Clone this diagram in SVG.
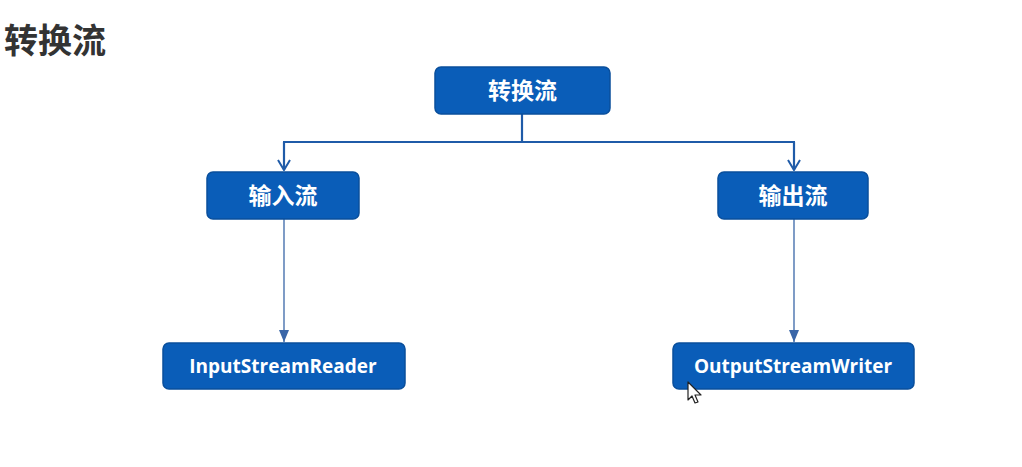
<svg xmlns="http://www.w3.org/2000/svg" width="1022" height="467" viewBox="0 0 1022 467">
<style>
.box{fill:#0A5DB8;stroke:#0A4F9C;stroke-width:1.5}
.zh{font-family:"Noto Sans CJK SC",sans-serif;font-weight:bold;fill:#fff;font-size:23px;text-anchor:middle}
.en{font-family:"Open Sans","Noto Sans",sans-serif;font-weight:bold;fill:#fff;font-size:19px;text-anchor:middle}
.thick{fill:none;stroke:#1F5BA8;stroke-width:2.2}
.thin{fill:none;stroke:#3A66A8;stroke-width:1.3}
</style>
<defs>
<marker id="chev" markerWidth="14" markerHeight="12" refX="7" refY="11" markerUnits="userSpaceOnUse" viewBox="0 0 14 12">
<path d="M1,1 L7,11 L13,1" fill="none" stroke="#1F5BA8" stroke-width="2"/>
</marker>
<marker id="tri" markerWidth="10" markerHeight="12" refX="5" refY="12" markerUnits="userSpaceOnUse" viewBox="0 0 10 12">
<path d="M0,0 L10,0 L5,12 Z" fill="#3A66A8"/>
</marker>
</defs>
<rect width="1022" height="467" fill="#fff"/>
<text x="4" y="53" font-family="Noto Sans CJK SC,sans-serif" font-weight="bold" font-size="34" fill="#333">转换流</text>
<g id="connectors">
<path class="thick" d="M522,114 V142"/>
<path class="thick" d="M283,142 H795"/>
<path class="thick" d="M284,142 V170" marker-end="url(#chev)"/>
<path class="thick" d="M794,142 V170" marker-end="url(#chev)"/>
<path class="thin" d="M284,219 V342" marker-end="url(#tri)"/>
<path class="thin" d="M794,219 V342" marker-end="url(#tri)"/>
</g>
<g id="root"><rect class="box" x="435" y="67" width="175" height="47" rx="6"/><text class="zh" x="522.5" y="99">转换流</text></g>
<g id="input"><rect class="box" x="207" y="172" width="152" height="47" rx="6"/><text class="zh" x="283" y="204">输入流</text></g>
<g id="output"><rect class="box" x="718" y="172" width="150" height="47" rx="6"/><text class="zh" x="793" y="204">输出流</text></g>
<g id="isr"><rect class="box" x="163" y="343" width="242" height="46" rx="6"/><text class="en" x="283" y="373">InputStreamReader</text></g>
<g id="osw"><rect class="box" x="673" y="343" width="241" height="46" rx="6"/><text class="en" x="793" y="373">OutputStreamWriter</text></g>
<path d="M688,382 L688,400 L692,396 L695,403 L698,402 L695,395 L701,395 Z" fill="#fff" stroke="#222" stroke-width="1.2" stroke-linejoin="round"/>
</svg>
